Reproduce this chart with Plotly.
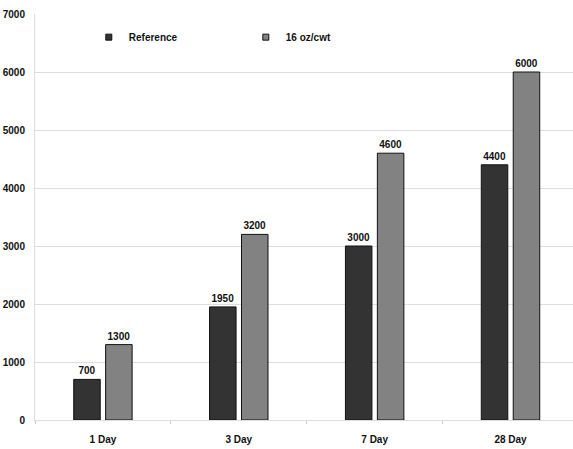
import plotly.graph_objects as go

categories = ["1 Day", "3 Day", "7 Day", "28 Day"]
reference_vals = [700, 1950, 3000, 4400]
treated_vals = [1300, 3200, 4600, 6000]
series_names = ["Reference", "16 oz/cwt"]
y_ticks = [0, 1000, 2000, 3000, 4000, 5000, 6000, 7000]

DARK = "#333333"
GRAY = "#828282"
FONT = "Liberation Sans"

fig = go.Figure()
for name, vals, col in [(series_names[0], reference_vals, DARK),
                        (series_names[1], treated_vals, GRAY)]:
    fig.add_trace(go.Bar(
        x=categories, y=vals, name=name, showlegend=False,
        marker=dict(color=col, line=dict(color="#111111", width=1)),
        text=[str(v) for v in vals], textposition="outside",
        textfont=dict(family=FONT, size=10, color="#111111", weight="bold"),
        cliponaxis=False,
    ))
    fig.add_trace(go.Scatter(
        x=[None], y=[None], mode="markers", name=name,
        marker=dict(symbol="square", size=6, color=col,
                    line=dict(color="#111111", width=1)),
    ))

fig.update_layout(
    width=573, height=449,
    margin=dict(l=35, r=0, t=14, b=29),
    paper_bgcolor="white", plot_bgcolor="white",
    barmode="group", bargap=0.53, bargroupgap=0.17,
    font=dict(family=FONT, size=10, color="#111111", weight="bold"),
    legend=dict(orientation="h", x=0.1, y=0.943, xanchor="left", yanchor="middle",
                itemwidth=30, entrywidth=112, entrywidthmode="pixels",
                font=dict(family=FONT, size=10, color="#111111", weight="bold"),
                bgcolor="rgba(0,0,0,0)"),
    showlegend=True,
)
fig.update_yaxes(range=[0, 7000], tickvals=y_ticks, showgrid=True,
                 gridcolor="#dddddd", gridwidth=1, zeroline=False,
                 showline=True, linecolor="#dddddd", linewidth=1,
                 ticks="", ticklabelstandoff=7)
fig.update_xaxes(range=[-0.5, 3.46], showline=True, linecolor="#dddddd", linewidth=1,
                 ticks="outside", tickson="boundaries", ticklen=3, tickcolor="#cccccc",
                 ticklabelstandoff=10, showgrid=False)

fig.write_html("out.html", config={"displayModeBar": False},
               post_script="document.body.style.margin='0';document.body.style.overflow='hidden';")
